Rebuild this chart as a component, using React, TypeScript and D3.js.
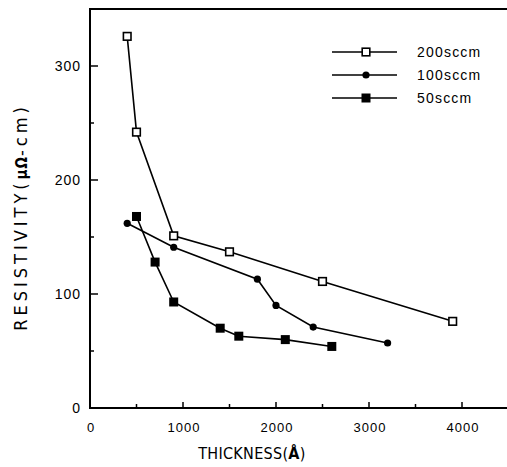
import React from 'react';
import * as d3 from 'd3';

// thickness (Å) / resistivity (μΩ-cm)
const thick200 = [400, 500, 900, 1500, 2500, 3900];
const res200 = [326, 242, 151, 137, 111, 76];
const thick100 = [400, 900, 1800, 2000, 2400, 3200];
const res100 = [162, 141, 113, 90, 71, 57];
const thick50 = [500, 700, 900, 1400, 1600, 2100, 2600];
const res50 = [168, 128, 93, 70, 63, 60, 54];

const seriesNames = ['200sccm', '100sccm', '50sccm'];
const xTicks = [0, 1000, 2000, 3000, 4000];
const xMinor = [500, 1500, 2500, 3500];
const yTicks = [0, 100, 200, 300];
const yMinor = [50, 150, 250];

const W = 507;
const H = 467;
const font = '"Liberation Sans", Arial, sans-serif';
const narrow = '"Liberation Sans Narrow", "DejaVu Sans Condensed", sans-serif';

const Marker = ({ kind, x, y }: { kind: string; x: number; y: number }) => {
  if (kind === '200sccm')
    return <rect x={x - 3.8} y={y - 3.8} width={7.6} height={7.6} fill="#fff" stroke="#000" strokeWidth={1.6} />;
  if (kind === '100sccm') return <circle cx={x} cy={y} r={3.6} fill="#000" />;
  return <rect x={x - 4.5} y={y - 4.5} width={9} height={9} fill="#000" />;
};

const App = () => {
  const x = d3.scaleLinear().domain([0, 4500]).range([90, 508.5]);
  const y = d3.scaleLinear().domain([0, 350]).range([408, 9]);

  const series = [
    { name: seriesNames[0], xs: thick200, ys: res200 },
    { name: seriesNames[1], xs: thick100, ys: res100 },
    { name: seriesNames[2], xs: thick50, ys: res50 },
  ];

  const line = d3
    .line<[number, number]>()
    .x(d => x(d[0]))
    .y(d => y(d[1]));

  return (
    <div style={{ position: 'absolute', left: 0, top: 0 }}>
      <svg width={W} height={H} style={{ display: 'block', background: '#fff' }}>
        {/* frame: left, bottom, top */}
        <line x1={x(0)} x2={W} y1={y(0)} y2={y(0)} stroke="#000" strokeWidth={2} />
        <line x1={x(0)} x2={W} y1={y(350)} y2={y(350)} stroke="#000" strokeWidth={2} />
        <line x1={x(0)} x2={x(0)} y1={y(0) + 1} y2={y(350) - 1} stroke="#000" strokeWidth={2} />

        {xTicks.map(t => (
          <g key={'xt' + t}>
            {t > 0 && <line x1={x(t)} x2={x(t)} y1={y(0)} y2={y(0) - 6} stroke="#000" strokeWidth={1.5} />}
            <text x={x(t) + 1} y={y(0) + 24} textAnchor="middle" fontSize={13} letterSpacing={1} fontFamily={font}>
              {t}
            </text>
          </g>
        ))}
        {xMinor.map(t => (
          <line key={'xm' + t} x1={x(t)} x2={x(t)} y1={y(0)} y2={y(0) - 4} stroke="#000" strokeWidth={1.5} />
        ))}

        {yTicks.map(t => (
          <g key={'yt' + t}>
            {t > 0 && <line x1={x(0)} x2={x(0) + 8} y1={y(t)} y2={y(t)} stroke="#000" strokeWidth={1.5} />}
            <text x={x(0) - 9} y={y(t) + 5} textAnchor="end" fontSize={14} letterSpacing={1} fontFamily={font}>
              {t}
            </text>
          </g>
        ))}
        {yMinor.map(t => (
          <line key={'ym' + t} x1={x(0)} x2={x(0) + 4} y1={y(t)} y2={y(t)} stroke="#000" strokeWidth={1.5} />
        ))}

        {series.map(s => {
          const pts = s.xs.map((v, i) => [v, s.ys[i]] as [number, number]);
          return (
            <g key={s.name}>
              <path d={line(pts) || ''} fill="none" stroke="#000" strokeWidth={1.6} />
              {pts.map((p, i) => (
                <Marker key={i} kind={s.name} x={x(p[0])} y={y(p[1])} />
              ))}
            </g>
          );
        })}

        {/* legend */}
        {seriesNames.map((n, i) => {
          const ly = 52 + i * 23;
          return (
            <g key={'lg' + n}>
              <line x1={332} x2={397} y1={ly} y2={ly} stroke="#000" strokeWidth={1.6} />
              <Marker kind={n} x={366} y={ly} />
              <text x={417} y={ly + 5} fontSize={14} letterSpacing={1.2} fontFamily={font}>
                {n}
              </text>
            </g>
          );
        })}

        <text
          transform={`translate(27, 217) rotate(-90)`}
          textAnchor="middle"
          fontSize={18}
          letterSpacing={4}
          fontFamily={narrow}
        >
          RESISTIVITY(<tspan fontWeight="bold" fontSize={15} letterSpacing={1}>μΩ</tspan>-cm)
        </text>
        <text x={252} y={459} textAnchor="middle" fontSize={16} letterSpacing={0.3} fontFamily={narrow}>
          THICKNESS(<tspan fontWeight="bold">Å</tspan>)
        </text>
      </svg>
    </div>
  );
};

export default App;
